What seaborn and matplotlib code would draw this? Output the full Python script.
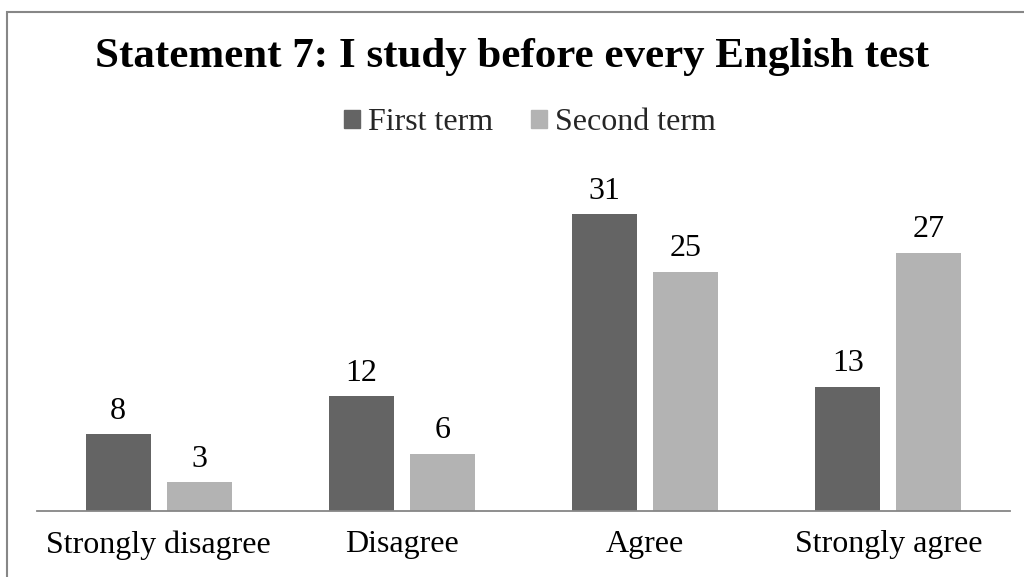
import matplotlib
matplotlib.use("Agg")
import matplotlib.pyplot as plt
import seaborn as sns
import pandas as pd
from matplotlib.patches import Rectangle

categories = ["Strongly disagree", "Disagree", "Agree", "Strongly agree"]
series_names = ["First term", "Second term"]
first_term = [8, 12, 31, 13]
second_term = [3, 6, 25, 27]
title = "Statement 7: I study before every English test"

df = pd.DataFrame({
    "category": categories * 2,
    "term": [series_names[0]] * 4 + [series_names[1]] * 4,
    "count": first_term + second_term,
})

sns.set_theme(style="white")
plt.rcParams["font.family"] = ["Liberation Serif", "DejaVu Serif"]

W, H = 1024, 577
fig = plt.figure(figsize=(W / 100, H / 100), dpi=100)
ax = fig.add_axes([37 / W, 66 / H, 973 / W, 335 / H])

palette = {series_names[0]: "#646464", series_names[1]: "#b3b3b3"}
sns.barplot(data=df, x="category", y="count", hue="term", order=categories,
            hue_order=series_names, palette=palette, width=0.666, gap=0.2,
            saturation=1, ax=ax, legend=False, linewidth=0)

for cont in ax.containers:
    ax.bar_label(cont, padding=6, fontsize=23, color="black")

ax.set_ylim(0, 35)
ax.set_xlim(-0.5, 3.5)
ax.set_xlabel("")
ax.set_ylabel("")
ax.set_yticks([])
ax.tick_params(axis="x", length=0, labelsize=23, pad=14, colors="black")
for s in ["top", "right", "left"]:
    ax.spines[s].set_visible(False)
ax.spines["bottom"].set_color("#868686")
ax.spines["bottom"].set_linewidth(1.3)

fig.text(0.5, 1 - 57 / H, title, ha="center", va="center",
         fontsize=31, fontweight="bold", color="black")

# legend
handles = [Rectangle((0, 0), 1, 1, color=palette[n]) for n in series_names]
fig.legend(handles, series_names, loc="center", bbox_to_anchor=(530 / W, 1 - 123 / H),
           ncol=2, frameon=False, fontsize=23, handlelength=0.5, handleheight=0.5,
           handletextpad=0.25, columnspacing=1.2)

# chart frame
fig.patches.append(Rectangle((7 / W, -0.1), 1.2, (H - 12) / H + 0.1,
                             transform=fig.transFigure, fill=False,
                             edgecolor="#878787", linewidth=1.5))

fig.savefig("out.png", dpi=100, facecolor="white")
